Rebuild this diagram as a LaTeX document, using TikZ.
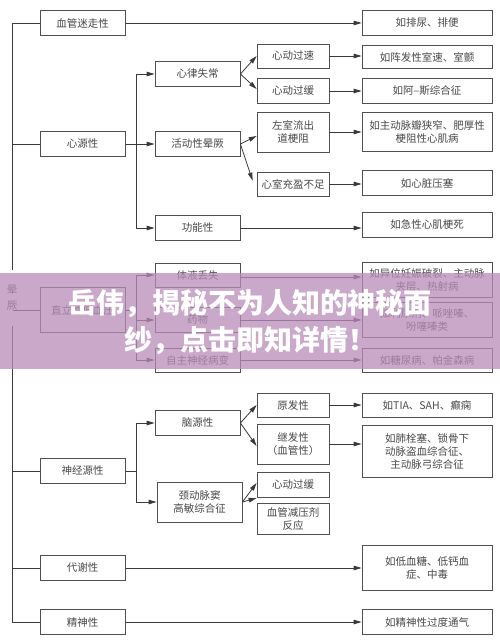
\documentclass[tikz,border=0pt]{standalone}
\usepackage{fontspec}
\newfontfamily\cjk{Noto Sans CJK SC}
\usetikzlibrary{arrows.meta}
\definecolor{linec}{HTML}{3A3A3A}
\definecolor{boxc}{HTML}{505050}
\definecolor{txtc}{HTML}{484848}
\definecolor{bandc}{RGB}{185,140,185}
\tikzset{
  box/.style={draw=boxc, fill=white, line width=0.8pt, align=center, inner sep=1pt,
    text=txtc, font=\cjk\fontsize{10.5}{13}\selectfont, minimum height=25pt},
  lbox/.style={box, minimum width=85pt},
  mbox/.style={box, minimum width=85pt},
  tbox/.style={box, minimum width=72pt},
  rbox/.style={box, minimum width=130pt},
  conn/.style={draw=linec, line width=0.8pt},
  arr/.style={conn, -{Triangle[length=8pt,width=4.5pt]}},
}
\begin{document}
\begin{tikzpicture}[x=1pt,y=-1pt]
\useasboundingbox (0,0) rectangle (500,643);
\fill[white] (0,0) rectangle (500,643);
% left column
\node[lbox] (L1) at (82.5,23) {血管迷走性};
\node[lbox] (L2) at (82.5,144) {心源性};
\node[lbox, minimum height=45pt] (L3) at (82.5,310) {直立性低血压};
\node[lbox] (L4) at (82.5,471) {神经源性};
\node[lbox] (L5) at (82.5,568) {代谢性};
\node[lbox] (L6) at (82.5,622) {精神性};
% root
\node[text=txtc, font=\cjk\fontsize{10.5}{16}\selectfont, align=center, inner sep=0pt, minimum height=55pt] (root) at (12,298) {晕\\厥};
% second column
\node[mbox] (M1) at (197.5,74) {心律失常};
\node[mbox] (M2) at (197.5,144) {活动性晕厥};
\node[mbox] (M3) at (197.5,228) {功能性};
\node[mbox, minimum height=24pt] (M4) at (197.5,275) {体液丢失};
\node[mbox] (M5) at (197.5,320) {药物};
\node[mbox, minimum height=24pt] (M6) at (197.5,360) {自主神经病变};
\node[mbox] (M7) at (197.5,423) {脑源性};
\node[mbox, minimum height=40pt] (M8) at (199.5,502) {颈动脉窦\\高敏综合征};
% third column
\node[tbox, minimum height=24pt] (T1) at (293,56) {心动过速};
\node[tbox] (T2) at (293,91) {心动过缓};
\node[tbox, minimum height=40pt] (T3) at (293,132) {左室流出\\道梗阻};
\node[tbox, minimum height=24pt] (T4) at (293,184) {心室充盈不足};
\node[tbox, minimum height=24pt] (T5) at (293,405) {原发性};
\node[tbox, minimum height=40pt] (T6) at (293,444) {继发性\\（血管性）};
\node[tbox] (T7) at (293,485) {心动过缓};
\node[tbox, minimum height=31pt] (T8) at (293,519) {血管减压剂\\反应};
% right column
\node[rbox] (R1) at (427,23) {如排尿、排便};
\node[rbox, minimum height=23pt] (R2) at (427,57) {如阵发性室速、室颤};
\node[rbox] (R3) at (427,91) {如阿–斯综合征};
\node[rbox, minimum height=39pt] (R4) at (427,132) {如主动脉瓣狭窄、肥厚性\\梗阻性心肌病};
\node[rbox] (R5) at (427,183) {如心脏压塞};
\node[rbox] (R6) at (427,225) {如急性心肌梗死};
\node[rbox, minimum height=35pt] (R7) at (427,280) {如异位妊娠破裂、主动脉\\夹层、热射病};
\node[rbox, minimum height=35pt] (R8) at (427,320) {如利尿剂、哌唑嗪、\\吩噻嗪类};
\node[rbox, minimum height=24pt] (R9) at (427,360) {如糖尿病、帕金森病};
\node[rbox, minimum height=24pt] (R10) at (427,405) {如TIA、SAH、癫痫};
\node[rbox, minimum height=52pt] (R11) at (427,451) {如肺栓塞、锁骨下\\动脉盗血综合征、\\主动脉弓综合征};
\node[rbox, minimum height=45pt] (R12) at (427,568) {如低血糖、低钙血\\症、中毒};
\node[rbox] (R13) at (427,622) {如精神性过度通气};
% trunk
\coordinate (ttop) at (12,23);
\coordinate (tbot) at (12,622);
\draw[conn] (ttop) -- (root.north);
\draw[conn] (root.south) -- (tbot);
\draw[conn] (ttop) -- (L1.west);
\draw[conn] (L2.west -| ttop) -- (L2.west);
\draw[conn] ([xshift=-4pt]root.east |- L3.west) -- (L3.west);
\draw[conn] (L4.west -| ttop) -- (L4.west);
\draw[conn] (L5.west -| ttop) -- (L5.west);
\draw[conn] (tbot) -- (L6.west);
% vasovagal
\draw[arr] (L1.east) -- (L1.east -| R1.west);
% cardiac
\coordinate (cv) at (136,144);
\draw[conn] (L2.east) -- (cv);
\draw[conn] (M1.west -| cv) -- (M3.west -| cv);
\draw[arr] (M1.west -| cv) -- (M1.west);
\draw[arr] (cv) -- (M2.west);
\draw[arr] (M3.west -| cv) -- (M3.west);
\draw[arr] (M1.east) -- (T1.west);
\draw[arr] (M1.east) -- ([yshift=2pt]T2.west);
\draw[arr] (M2.east) -- ([yshift=-4pt]T3.west);
\draw[arr] (M2.east) -- ([xshift=-4pt,yshift=-9pt]T4.north west);
\draw[arr] (T1.east) -- (T1.east -| R2.west);
\draw[arr] (T2.east) -- (T2.east -| R3.west);
\draw[arr] (T3.east) -- (T3.east -| R4.west);
\draw[arr] (T4.east) -- (T4.east -| R5.west);
\draw[arr] (M3.east) -- (M3.east -| R6.west);
% orthostatic
\coordinate (ov) at (136,310);
\draw[conn] (L3.east) -- (ov);
\draw[conn] (M4.west -| ov) -- (M6.west -| ov);
\draw[arr] (M4.west -| ov) -- (M4.west);
\draw[arr] (M5.west -| ov) -- (M5.west);
\draw[arr] (M6.west -| ov) -- (M6.west);
\draw[arr] ([yshift=-2pt]M4.east) -- ([yshift=-2pt]M4.east -| R7.west);
\draw[arr] (M5.east) -- (M5.east -| R8.west);
\draw[arr] (M6.east) -- (M6.east -| R9.west);
% neurogenic
\coordinate (nv) at (136,471);
\draw[conn] (L4.east) -- (nv);
\draw[conn] (M7.west -| nv) -- (M8.west -| nv);
\draw[arr] (M7.west -| nv) -- (M7.west);
\draw[arr] (M8.west -| nv) -- (M8.west);
\draw[arr] (M7.east) -- (T5.west);
\draw[arr] (M7.east) -- ([yshift=-2pt]T6.west);
\draw[arr] (M8.east) -- ([yshift=2pt]T7.west);
\draw[arr] (M8.east) -- ([yshift=5pt]T8.north west);
\draw[arr] (T5.east) -- (T5.east -| R10.west);
\draw[arr] (T6.east) -- (T6.east -| R11.west);
% metabolic, psychiatric
\draw[arr] (L5.east) -- (L5.east -| R12.west);
\draw[arr] (L6.east) -- (L6.east -| R13.west);
% banner
\fill[bandc, opacity=0.75] (0,273) rectangle (500,369);
\node[text=white, font=\cjk\bfseries\fontsize{28}{37}\selectfont, align=center, inner sep=0pt] (banner) at (250,322) {岳伟，揭秘不为人知的神秘面\\纱，点击即知详情！};
\end{tikzpicture}
\end{document}
